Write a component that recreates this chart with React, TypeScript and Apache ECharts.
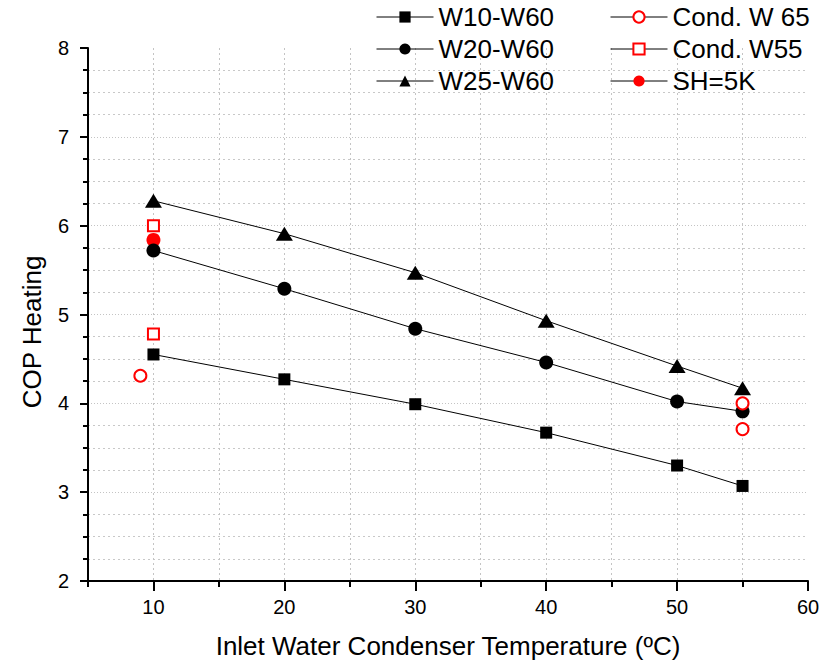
import React, { useEffect, useRef } from "react";
import * as echarts from "echarts";

const temps = [10, 20, 30, 40, 50, 55];
const copW10 = [4.55, 4.27, 3.99, 3.67, 3.3, 3.07];
const copW20 = [5.72, 5.29, 4.84, 4.46, 4.02, 3.91];
const copW25 = [6.28, 5.91, 5.47, 4.93, 4.42, 4.17];
const condW65 = [
  [9, 4.31],
  [55, 4.0],
  [55, 3.71],
];
const condW55 = [
  [10, 6.0],
  [10, 4.78],
];
const sh5k = [[10, 5.84]];
const xMajorTicks = [10, 20, 30, 40, 50, 60];

const FONT = "'Liberation Sans', Arial, Helvetica, sans-serif";

export default function App() {
  const ref = useRef<HTMLDivElement>(null);
  useEffect(() => {
    if (!ref.current) return;
    const chart = echarts.init(ref.current, null, { renderer: "svg" });
    const pair = (xs: number[], ys: number[]) => xs.map((x, i) => [x, ys[i]]);
    const legendLine = { color: "#000", width: 1, opacity: 1, type: "solid" };
    const legendCommon = {
      orient: "vertical",
      top: 4,
      padding: 0,
      itemWidth: 57,
      itemHeight: 14,
      itemGap: 6,
      selectedMode: false,
      textStyle: { fontFamily: FONT, fontSize: 26, lineHeight: 26, color: "#000" },
    };
    chart.setOption({
      animation: false,
      backgroundColor: "#fff",
      grid: { left: 88, right: 29, top: 48, bottom: 83, containLabel: false },
      legend: [
        {
          ...legendCommon,
          left: 376,
          data: [
            { name: "W10-W60", lineStyle: legendLine },
            { name: "W20-W60", lineStyle: legendLine },
            { name: "W25-W60", lineStyle: legendLine },
          ],
        },
        {
          ...legendCommon,
          left: 610,
          data: [
            { name: "Cond. W 65", lineStyle: legendLine },
            { name: "Cond. W55", lineStyle: legendLine },
            { name: "SH=5K", lineStyle: legendLine },
          ],
        },
      ],
      xAxis: [
        {
          type: "value",
          min: 5,
          max: 60,
          interval: 5,
          position: "bottom",
          name: "Inlet Water Condenser Temperature (ºC)",
          nameLocation: "middle",
          nameGap: 52,
          nameTextStyle: { fontFamily: FONT, fontSize: 26, color: "#000" },
          axisLine: { show: true, lineStyle: { color: "#000", width: 2 } },
          axisTick: { show: true, length: 6, lineStyle: { color: "#000", width: 2 } },
          axisLabel: {
            fontFamily: FONT,
            fontSize: 20,
            color: "#000",
            margin: 16,
            formatter: (v: number) => (v % 10 === 0 ? String(v) : ""),
          },
          splitLine: {
            show: true,
            showMinLine: false,
            showMaxLine: false,
            lineStyle: { color: "#c4c4c4", width: 1, type: [2, 3] },
          },
        },
        {
          type: "value",
          min: 5,
          max: 60,
          interval: 5,
          position: "bottom",
          axisLine: { show: false },
          axisTick: {
            show: true,
            length: 10,
            customValues: xMajorTicks,
            lineStyle: { color: "#000", width: 2 },
          },
          axisLabel: { show: false },
          splitLine: { show: false },
        },
      ],
      yAxis: {
        type: "value",
        min: 2,
        max: 8,
        interval: 1,
        axisLine: { show: true, lineStyle: { color: "#000", width: 2 } },
        axisTick: { show: true, length: 8, lineStyle: { color: "#000", width: 2 } },
        minorTick: { show: true, splitNumber: 4, length: 5, lineStyle: { color: "#000", width: 2 } },
        axisLabel: { fontFamily: FONT, fontSize: 20, color: "#000", margin: 19 },
        splitLine: {
          show: true,
          showMinLine: false,
          showMaxLine: false,
          lineStyle: { color: "#c4c4c4", width: 1, type: [1, 2] },
        },
        minorSplitLine: {
          show: true,
          lineStyle: { color: "#c8c8c8", width: 1, type: [2, 3] },
        },
      },
      graphic: [
        {
          type: "text",
          x: 32,
          y: 332,
          rotation: Math.PI / 2,
          style: {
            text: "COP Heating",
            fontFamily: FONT,
            fontSize: 26,
            fill: "#000",
            align: "center",
            verticalAlign: "middle",
          },
        },
      ],
      series: [
        {
          name: "SH=5K",
          type: "line",
          z: 1,
          data: sh5k,
          symbol: "circle",
          symbolSize: 14,
          itemStyle: { color: "#ff0000" },
          lineStyle: { opacity: 0, width: 0 },
        },
        {
          name: "W10-W60",
          type: "line",
          z: 2,
          data: pair(temps, copW10),
          symbol: "rect",
          symbolSize: 12,
          itemStyle: { color: "#000" },
          lineStyle: { color: "#000", width: 1 },
        },
        {
          name: "W20-W60",
          type: "line",
          z: 2,
          data: pair(temps, copW20),
          symbol: "circle",
          symbolSize: 14,
          itemStyle: { color: "#000" },
          lineStyle: { color: "#000", width: 1 },
        },
        {
          name: "W25-W60",
          type: "line",
          z: 2,
          data: pair(temps, copW25),
          symbol: "triangle",
          symbolSize: [17, 14],
          itemStyle: { color: "#000" },
          lineStyle: { color: "#000", width: 1 },
        },
        {
          name: "Cond. W 65",
          type: "line",
          z: 3,
          data: condW65,
          symbol: "emptyCircle",
          symbolSize: 12,
          itemStyle: { color: "#ff0000", borderWidth: 1.3 },
          lineStyle: { opacity: 0, width: 0 },
        },
        {
          name: "Cond. W55",
          type: "line",
          z: 3,
          data: condW55,
          symbol: "emptyRect",
          symbolSize: 11,
          itemStyle: { color: "#ff0000", borderWidth: 1.3 },
          lineStyle: { opacity: 0, width: 0 },
        },
      ],
    });
    return () => chart.dispose();
  }, []);
  return (
    <div
      ref={ref}
      style={{ position: "fixed", left: 0, top: 0, width: 837, height: 664, background: "#fff" }}
    />
  );
}
